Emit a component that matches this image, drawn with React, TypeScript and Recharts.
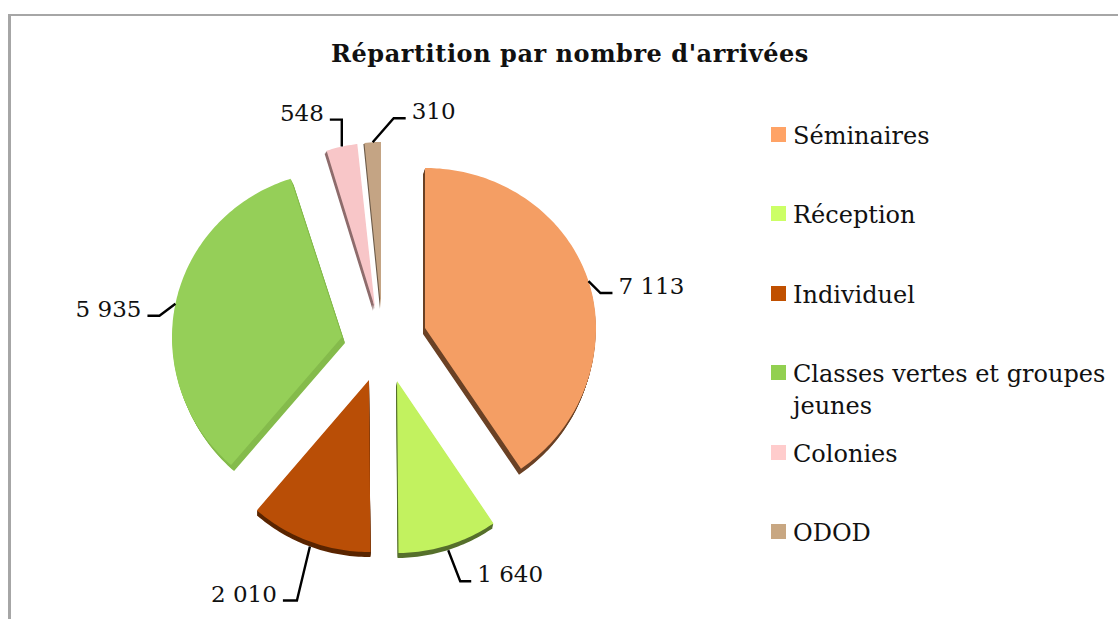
import { PieChart, Pie, Legend } from 'recharts'

const categories = ['Séminaires', 'Réception', 'Individuel', 'Classes vertes et groupes jeunes', 'Colonies', 'ODOD']
const arrivals = [7113, 1640, 2010, 5935, 548, 310]
const sliceColors = ['#F49E64', '#C2F25F', '#B94E06', '#95CF58', '#F8C6C8', '#C4A484']
const legendColors = ['#FFA366', '#CCFF66', '#C05000', '#92D050', '#FFCCCC', '#C8A782']
const edgeColors = ['#6B4226', '#56702C', '#5A2500', '#85BB4C', '#8E6C6C', '#6B5A48']

// exploded look: offset from the pie centre, radii (x, up, down), extrusion vector
const offsets = [[42, -17], [14, 36], [-14, 35], [-41, -8], [-8, -37], [-2, -37]]
const radii = [[171, 160, 170], [172, 172, 172], [172, 172, 172], [170, 166, 169], [160, 165, 165], [150, 166, 166]]
const extrusions = [[-2, 6], [-1, 5], [0, 5], [3, 6], [-2, 3], [-1, 1]]
// leader line elbows, relative to the point on the slice edge: dx, dy, then run
const leaders = [[12, 12, 12], [12, 31, 11], [-13, 54, -14], [-16, 12, -12], [0, -27, -12], [21, -24, 12]]

const FONT = '"DejaVu Serif", serif'
const data = categories.map((name, i) => ({ name, value: arrivals[i], fill: sliceColors[i] }))

const fmt = (v: number) => String(v).replace(/\B(?=(\d{3})+$)/g, ' ')
const rad = (d: number) => (d * Math.PI) / 180

function project(i: number, cx: number, cy: number, clock: number) {
  const [rx, up, down] = radii[i]
  const c = Math.cos(rad(clock))
  return {
    x: cx + offsets[i][0] + rx * Math.sin(rad(clock)),
    y: cy + offsets[i][1] - c * (c > 0 ? up : down),
  }
}

function slicePath(i: number, cx: number, cy: number, startAngle: number, endAngle: number) {
  const a0 = 90 - startAngle
  const a1 = 90 - endAngle
  let d = `M${cx + offsets[i][0]},${cy + offsets[i][1]}`
  for (let a = a0; a < a1; a += 1) {
    const p = project(i, cx, cy, a)
    d += `L${p.x.toFixed(1)},${p.y.toFixed(1)}`
  }
  const e = project(i, cx, cy, a1)
  return d + `L${e.x.toFixed(1)},${e.y.toFixed(1)}Z`
}

function SliceShape(props: any) {
  const { cx, cy, startAngle, endAngle, fill } = props
  const i = props.index ?? categories.indexOf(props.name)
  const d = slicePath(i, cx, cy, startAngle, endAngle)
  const [ex, ey] = extrusions[i]
  const steps = Math.max(Math.abs(ex), Math.abs(ey))
  const layers = Array.from({ length: steps }, (_, k) => (steps - k) / steps)
  return (
    <g>
      {layers.map((t) => (
        <path key={t} d={d} fill={edgeColors[i]} transform={`translate(${ex * t},${ey * t})`} />
      ))}
      <path d={d} fill={fill} />
    </g>
  )
}

function SliceLabel(props: any) {
  const { cx, cy, index, value, midAngle } = props
  const clock = 90 - midAngle
  const a = project(index, cx, cy, clock)
  const [dx, dy, run] = leaders[index]
  // lower slices: the line leaves from the bottom of the extruded edge
  const y0 = a.y + (Math.cos(rad(clock)) < 0 ? extrusions[index][1] : 0)
  const ex = a.x + dx
  const ey = y0 + dy
  return (
    <g>
      <polyline points={`${a.x},${y0} ${ex},${ey} ${ex + run},${ey}`} fill="none" stroke="#000" strokeWidth={2.4} />
      <text x={ex + run + (run > 0 ? 6 : -6)} y={ey + 1} textAnchor={run > 0 ? 'start' : 'end'} fontFamily={FONT} fontSize={23} fill="#111">
        {fmt(value)}
      </text>
    </g>
  )
}

function LegendBox() {
  return (
    <div style={{ position: 'relative', width: 340, height: 440, fontFamily: FONT, fontSize: 24, color: '#111' }}>
      {categories.map((name, i) => (
        <div key={name} style={{ position: 'absolute', left: 0, top: i * 79.4, display: 'flex', width: 340 }}>
          <span style={{ width: 15, height: 15, marginTop: 7, background: legendColors[i], flex: 'none' }} />
          <span style={{ marginLeft: 7, lineHeight: '32px' }}>{name}</span>
        </div>
      ))}
    </div>
  )
}

export default function App() {
  return (
    <div style={{ position: 'absolute', left: 0, top: 0, width: 1118, height: 619, overflow: 'hidden', background: '#fff' }}>
      <div style={{ position: 'absolute', left: 8, top: 14, width: 1110, height: 605, borderTop: '2px solid #A6A6A6', borderLeft: '3px solid #A6A6A6', boxSizing: 'border-box' }} />
      <PieChart width={1118} height={619} margin={{ top: 0, right: 0, bottom: 0, left: 0 }}>
        <text x={570} y={62} textAnchor="middle" fontFamily={FONT} fontWeight="bold" fontSize={24} letterSpacing={0.55} fill="#111">
          Répartition par nombre d'arrivées
        </text>
        <Pie
          data={data}
          dataKey="value"
          nameKey="name"
          cx={383}
          cy={345}
          outerRadius={172}
          startAngle={90}
          endAngle={-270}
          stroke="none"
          shape={SliceShape}
          label={SliceLabel}
          labelLine={false}
          isAnimationActive={false}
        />
        <Legend content={<LegendBox />} layout="vertical" align="right" verticalAlign="top" wrapperStyle={{ left: 771, right: 'auto', top: 120, width: 340 }} />
      </PieChart>
    </div>
  )
}
